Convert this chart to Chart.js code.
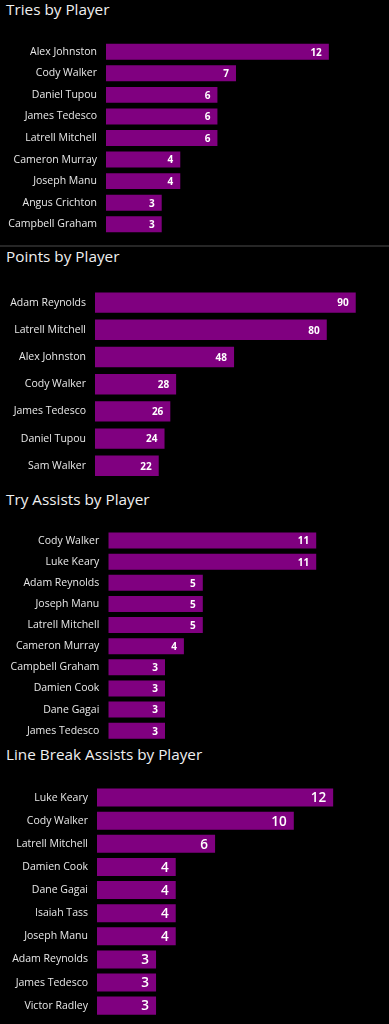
<!DOCTYPE html>
<html>
<head>
<meta charset="utf-8">
<script src="https://cdn.jsdelivr.net/npm/chart.js@4/dist/chart.umd.min.js"></script>
<style>
  html, body { margin: 0; padding: 0; background: #000; }
  body { width: 389px; height: 1024px; position: relative; overflow: hidden; font-family: "Open Sans", sans-serif; }
  .title { position: absolute; left: 6px; color: #f0f0f0; font-size: 15.3px; line-height: 1; white-space: nowrap; }
  .box { position: absolute; left: 0; width: 389px; }
  .sep { position: absolute; left: 0; width: 389px; top: 245px; height: 2px; background: #262626; }
</style>
</head>
<body>
<div class="title" style="top:2px">Tries by Player</div>
<div class="box" style="top:40.5px;height:194px"><canvas id="tries"></canvas></div>
<div class="sep"></div>
<div class="title" style="top:249px">Points by Player</div>
<div class="box" style="top:289px;height:190.4px"><canvas id="points"></canvas></div>
<div class="title" style="top:492px">Try Assists by Player</div>
<div class="box" style="top:529.7px;height:211.3px"><canvas id="assists"></canvas></div>
<div class="title" style="top:747px">Line Break Assists by Player</div>
<div class="box" style="top:786.1px;height:231.2px"><canvas id="linebreaks"></canvas></div>

<script>
// data
const triesPlayers = ['Alex Johnston', 'Cody Walker', 'Daniel Tupou', 'James Tedesco', 'Latrell Mitchell',
  'Cameron Murray', 'Joseph Manu', 'Angus Crichton', 'Campbell Graham'];
const triesValues = [12, 7, 6, 6, 6, 4, 4, 3, 3];

const pointsPlayers = ['Adam Reynolds', 'Latrell Mitchell', 'Alex Johnston', 'Cody Walker',
  'James Tedesco', 'Daniel Tupou', 'Sam Walker'];
const pointsValues = [90, 80, 48, 28, 26, 24, 22];

const assistsPlayers = ['Cody Walker', 'Luke Keary', 'Adam Reynolds', 'Joseph Manu', 'Latrell Mitchell',
  'Cameron Murray', 'Campbell Graham', 'Damien Cook', 'Dane Gagai', 'James Tedesco'];
const assistsValues = [11, 11, 5, 5, 5, 4, 3, 3, 3, 3];

const lineBreakPlayers = ['Luke Keary', 'Cody Walker', 'Latrell Mitchell', 'Damien Cook', 'Dane Gagai',
  'Isaiah Tass', 'Joseph Manu', 'Adam Reynolds', 'James Tedesco', 'Victor Radley'];
const lineBreakValues = [12, 10, 6, 4, 4, 4, 4, 3, 3, 3];

const PURPLE = '#800080';

// draws the value at the inside end of every bar
const valueLabels = {
  id: 'valueLabels',
  afterDatasetsDraw(chart, args, opts) {
    const ctx = chart.ctx;
    const meta = chart.getDatasetMeta(0);
    const values = chart.data.datasets[0].data;
    ctx.save();
    ctx.font = opts.font;
    ctx.fillStyle = '#ffffff';
    ctx.textAlign = 'right';
    ctx.textBaseline = 'middle';
    meta.data.forEach((bar, i) => {
      ctx.fillText(String(values[i]), bar.x - opts.offset, bar.y + 1);
    });
    ctx.restore();
  }
};

function makeChart(id, labels, values, axisLeft, xMax, pxPerUnit, barPct, valueFont) {
  const rightPad = 389 - axisLeft - xMax * pxPerUnit;
  return new Chart(document.getElementById(id), {
    type: 'bar',
    data: {
      labels,
      datasets: [{
        data: values,
        backgroundColor: PURPLE,
        borderWidth: 0,
        barPercentage: barPct,
        categoryPercentage: 1
      }]
    },
    options: {
      indexAxis: 'y',
      responsive: true,
      maintainAspectRatio: false,
      animation: false,
      layout: { padding: { left: 0, right: rightPad, top: 0, bottom: 0 } },
      plugins: {
        legend: { display: false },
        tooltip: { enabled: false },
        valueLabels: { font: valueFont, offset: 7 }
      },
      scales: {
        x: { display: false, min: 0, max: xMax },
        y: {
          grid: { display: false, drawTicks: false },
          border: { display: false },
          ticks: {
            color: '#e8e8e8',
            padding: 9,
            font: { family: 'Open Sans', size: 10.5 }
          },
          afterFit(scale) {
            scale.width = axisLeft;
            // no extra room above/below the first and last label
            scale.paddingTop = 0;
            scale.paddingBottom = 0;
          }
        }
      }
    },
    plugins: [valueLabels]
  });
}

makeChart('tries', triesPlayers, triesValues, 106, 15, 18.57, 0.74, 'bold 10px "Open Sans"');
makeChart('points', pointsPlayers, pointsValues, 95, 100, 2.897, 0.75, 'bold 10px "Open Sans"');
makeChart('assists', assistsPlayers, assistsValues, 108.3, 14.5, 18.9, 0.757, 'bold 10px "Open Sans"');
makeChart('linebreaks', lineBreakPlayers, lineBreakValues, 97, 14.5, 19.68, 0.78, '600 13.5px "Open Sans"');
</script>
</body>
</html>
